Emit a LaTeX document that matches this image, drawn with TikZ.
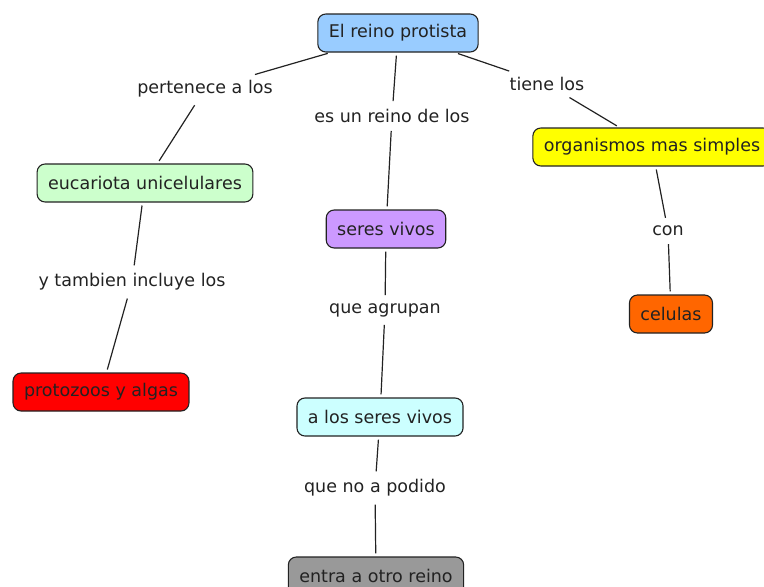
\documentclass[tikz,border=0pt]{standalone}
\usepackage{fontspec}
\setmainfont{DejaVu Sans}
\usepackage{xcolor}
\usepackage{tikz}
\usetikzlibrary{calc}
\definecolor{cblue}{HTML}{99CCFF}
\definecolor{cgreen}{HTML}{CCFFCC}
\definecolor{cviolet}{HTML}{CC99FF}
\definecolor{cyellow}{HTML}{FFFF00}
\definecolor{corange}{HTML}{FF6600}
\definecolor{cred}{HTML}{FF0000}
\definecolor{ccyan}{HTML}{CCFFFF}
\definecolor{cgray}{HTML}{999999}
\definecolor{ink}{HTML}{222222}

\begin{document}
\begin{tikzpicture}[x=1pt,y=-1pt,
  concept/.style={draw=ink, rounded corners=8pt, line width=1.1pt, inner xsep=11pt,
    minimum height=38pt, text=ink, font=\fontsize{17.5}{20}\selectfont},
  linking/.style={text=ink, inner sep=5pt, font=\fontsize{17.5}{20}\selectfont},
  link/.style={draw=ink, line width=1.2pt, shorten <=3pt, shorten >=3pt}]
\useasboundingbox (0,0) rectangle (764,587);

\node (N1) at (398,33) [concept, fill=cblue] {El reino protista};
\node (N2) at (145,183) [concept, fill=cgreen] {eucariota unicelulares};
\node (N3) at (386,229) [concept, fill=cviolet] {seres vivos};
\node (N4) at (652,147) [concept, fill=cyellow] {organismos mas simples};
\node (N5) at (671,314) [concept, fill=corange] {celulas};
\node (N6) at (101,392) [concept, fill=cred] {protozoos y algas};
\node (N7) at (380,417) [concept, fill=ccyan] {a los seres vivos};
\node (N8) at (376,576) [concept, fill=cgray] {entra a otro reino};

\node (L1) at (205,89) [linking] {pertenece a los};
\node (L2) at (392,116) [linking] {es un reino de los};
\node (L3) at (547,84) [linking] {tiene los};
\node (L4) at (132,282) [linking] {y tambien incluye los};
\node (L5) at (385,310) [linking] {que agrupan};
\node (L6) at (668,231) [linking] {con};
\node (L7) at (375,488) [linking] {que no a podido};

\draw[link] (N1) -- (L1);
\draw[link] (L1) -- (N2);
\draw[link] (N1) -- (L2);
\draw[link] (L2) -- (N3);
\draw[link] (N1) -- (L3);
\draw[link] (L3) -- (N4);
\draw[link] (N2) -- (L4);
\draw[link] (L4) -- (N6);
\draw[link] (N3) -- (L5);
\draw[link] (L5) -- (N7);
\draw[link] (N4) -- (L6);
\draw[link] (L6) -- (N5);
\draw[link] (N7) -- (L7);
\draw[link] (L7) -- (N8);
\end{tikzpicture}
\end{document}
